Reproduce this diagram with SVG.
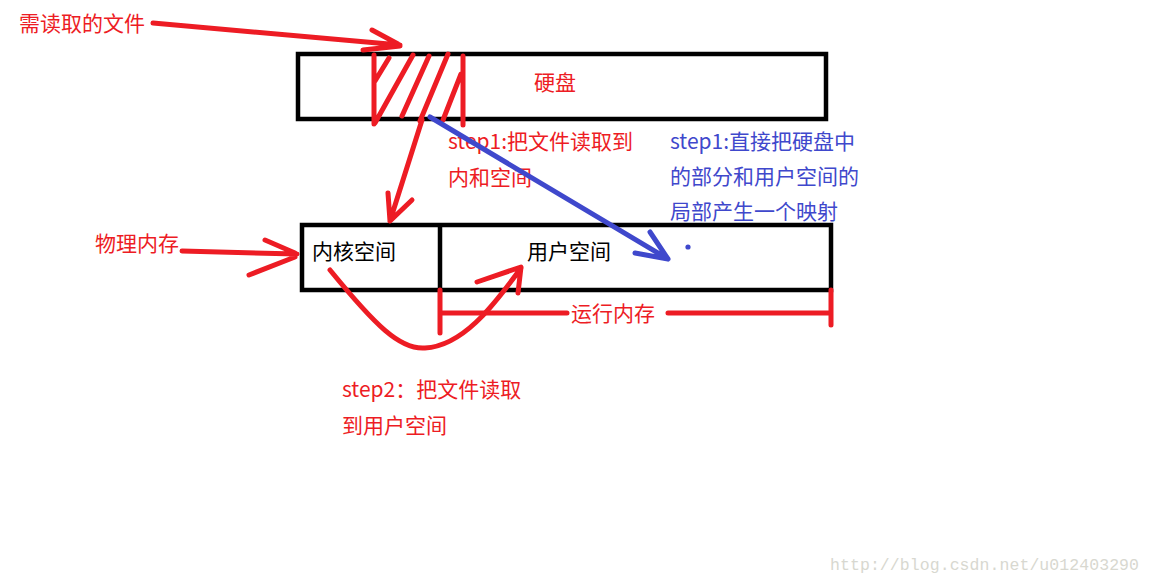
<svg xmlns="http://www.w3.org/2000/svg" width="1150" height="584" viewBox="0 0 1150 584">
<style>
.box{fill:none;stroke:#000;stroke-width:4.5}
.r{fill:none;stroke:#ED1C24;stroke-width:5;stroke-linecap:round;stroke-linejoin:round}
.b{fill:none;stroke:#3F48CC;stroke-width:5;stroke-linecap:round;stroke-linejoin:round}
text{font-family:"Microsoft YaHei","Noto Sans CJK SC",sans-serif;font-size:21px}
.tr{fill:#ED1C24}
.tb{fill:#3F48CC}
.tk{fill:#000}
.wm{font-family:"Liberation Mono",monospace;font-size:16.5px;fill:#d8d8d0}
</style>
<rect width="1150" height="584" fill="#fff"/>
<g id="disk">
<rect class="box" x="298" y="54" width="528" height="65"/>
<text class="tr" x="534" y="90">硬盘</text>
</g>
<g id="hatch">
<path class="r" d="M374,55 V124 M375,81 L389,58 M375,123 L413,55 M402,116 L429,56 M420,121 L448,54 M443,120 L461,74 M463,56 V125"/>
</g>
<g id="memory">
<rect class="box" x="302" y="225" width="529" height="65"/>
<line x1="440" y1="225" x2="440" y2="290" stroke="#000" stroke-width="4.5"/>
<text class="tk" x="312" y="259">内核空间</text>
<text class="tk" x="527" y="259">用户空间</text>
</g>
<g id="labels">
<text class="tr" x="19" y="31">需读取的文件</text>
<text class="tr" x="95" y="251">物理内存</text>
<text class="tr" x="448" y="149">step1:把文件读取到</text>
<text class="tr" x="448" y="185">内和空间</text>
<text class="tb" x="670" y="149">step1:直接把硬盘中</text>
<text class="tb" x="670" y="184">的部分和用户空间的</text>
<text class="tb" x="670" y="219">局部产生一个映射</text>
<text class="tr" x="571" y="321">运行内存</text>
<text class="tr" x="342" y="397">step2：把文件读取</text>
<text class="tr" x="342" y="433">到用户空间</text>
<text class="wm" x="830" y="570" textLength="309">http://blog.csdn.net/u012403290</text>
</g>
<g id="connectors">
<path class="r" d="M153,23 L400,45 M372,30 L398,44 M363,50 L400,46"/>
<path class="r" d="M182,251 L297,254 M265,240 L295,253 M249,275 L295,257"/>
<path class="r" d="M422,120 L390,221 M388,193 L390,221 L412,200"/>
<path class="r" d="M330,270 C375,325 400,350 425,348 C462,346 492,308 521,268 M477,282 L521,267 L518,293"/>
<path class="b" d="M430,117 L668,259 M650,232 L668,259 L635,253"/>
<circle cx="688" cy="247" r="2.6" fill="#3F48CC"/>
<path class="r" d="M440,290 V333 M442,313 H567 M668,313 H831 M831,290 V325"/>
</g>
</svg>
